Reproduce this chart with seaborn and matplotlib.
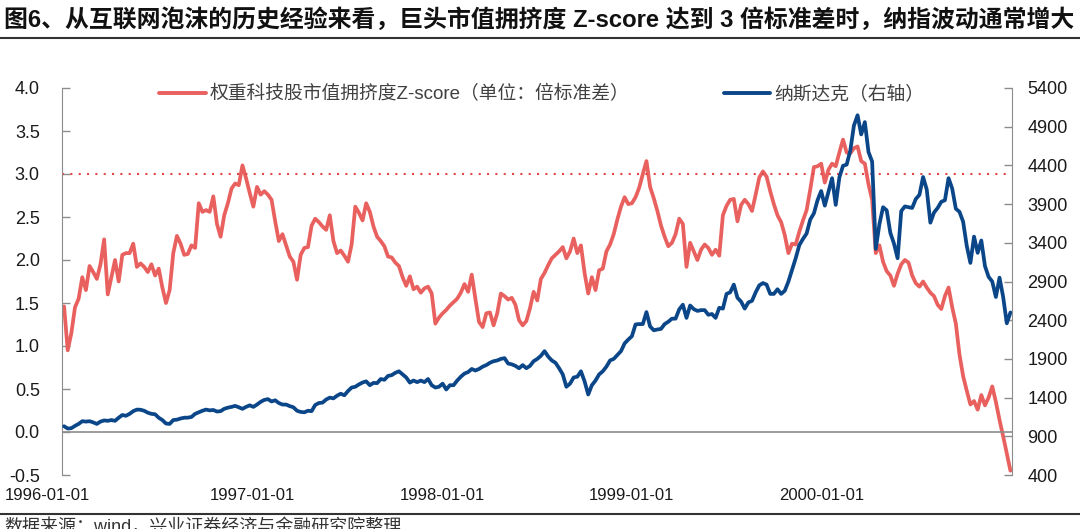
import matplotlib
matplotlib.use("Agg")
import matplotlib.pyplot as plt
import matplotlib.dates as mdates
import matplotlib.ticker as mtick
from matplotlib.lines import Line2D
from matplotlib.transforms import ScaledTranslation
import numpy as np
import pandas as pd
import seaborn as sns

# weekly readings (Fridays), Z-score of mega-cap tech crowding (left axis)
zscore_1996 = [1.46, 0.95, 1.15, 1.45, 1.55, 1.80, 1.65, 1.93, 1.86, 1.78,
               1.95, 2.24, 1.60, 1.80, 2.00, 1.75, 2.06, 2.08, 2.08, 2.19,
               1.92, 1.96, 1.92, 1.86, 1.95, 1.82, 1.90, 1.68, 1.50, 1.65,
               2.08, 2.28, 2.19, 2.06, 2.07, 2.17, 2.14, 2.66, 2.56, 2.58,
               2.56, 2.74, 2.42, 2.27, 2.52, 2.66, 2.83, 2.89, 2.87, 3.10,
               2.95, 2.78]
zscore_1997 = [2.62, 2.85, 2.76, 2.80, 2.76, 2.70, 2.45, 2.22, 2.30, 2.17,
               2.04, 1.98, 1.77, 2.06, 2.14, 2.15, 2.40, 2.48, 2.44, 2.39,
               2.35, 2.52, 2.22, 2.08, 2.11, 2.05, 1.98, 2.18, 2.62, 2.55,
               2.46, 2.66, 2.56, 2.39, 2.27, 2.22, 2.16, 2.04, 2.03, 1.97,
               1.93, 1.80, 1.70, 1.81, 1.66, 1.69, 1.62, 1.67, 1.69, 1.61,
               1.26, 1.33]
zscore_1998 = [1.38, 1.42, 1.47, 1.51, 1.55, 1.62, 1.72, 1.63, 1.83, 1.55,
               1.28, 1.22, 1.38, 1.39, 1.24, 1.38, 1.61, 1.58, 1.54, 1.56,
               1.48, 1.30, 1.24, 1.29, 1.44, 1.63, 1.53, 1.78, 1.85, 1.94,
               2.02, 2.06, 2.10, 2.15, 2.02, 2.10, 2.25, 2.08, 2.17, 1.85,
               1.61, 1.80, 1.65, 1.88, 1.90, 2.10, 2.18, 2.30, 2.47, 2.62,
               2.73, 2.65]
zscore_1999 = [2.66, 2.73, 2.84, 3.00, 3.15, 2.85, 2.72, 2.57, 2.40, 2.27,
               2.16, 2.20, 2.30, 2.48, 2.42, 1.92, 2.20, 2.10, 2.00, 2.12,
               2.18, 2.14, 2.06, 2.12, 2.05, 2.52, 2.63, 2.70, 2.71, 2.45,
               2.64, 2.70, 2.65, 2.57, 2.76, 2.96, 3.03, 2.97, 2.80, 2.65,
               2.52, 2.44, 2.29, 2.08, 2.19, 2.18, 2.33, 2.46, 2.58, 2.82,
               3.08, 3.09, 3.12]
zscore_2000 = [2.90, 3.05, 3.12, 3.09, 3.25, 3.40, 3.25, 3.24, 3.30, 3.32,
               3.15, 3.12, 2.88, 2.70, 2.08, 2.17, 1.98, 1.87, 1.82, 1.70,
               1.84, 1.95, 2.00, 1.97, 1.82, 1.73, 1.69, 1.75, 1.68, 1.62,
               1.58, 1.48, 1.43, 1.58, 1.68, 1.45, 1.26, 0.90, 0.65, 0.48,
               0.32, 0.36, 0.26, 0.43, 0.31, 0.40, 0.53, 0.35, 0.14, -0.05,
               -0.25, -0.45]

# Nasdaq composite, weekly closes (right axis)
nasdaq_1996 = [1030, 1000, 1005, 1035, 1060, 1095, 1090, 1095, 1080, 1060,
               1090, 1105, 1100, 1110, 1100, 1140, 1175, 1165, 1190, 1225,
               1245, 1243, 1230, 1205, 1190, 1185, 1140, 1110, 1065, 1060,
               1110, 1115, 1130, 1140, 1141, 1150, 1190, 1210, 1230, 1245,
               1235, 1240, 1220, 1225, 1255, 1270, 1280, 1293, 1275, 1255,
               1280, 1300]
nasdaq_1997 = [1280, 1310, 1345, 1370, 1380, 1350, 1365, 1330, 1310, 1310,
               1290, 1275, 1230, 1215, 1210, 1230, 1225, 1305, 1330, 1335,
               1375, 1400, 1390, 1425, 1450, 1430, 1485, 1530, 1540, 1570,
               1595, 1610, 1560, 1590, 1587, 1640, 1630, 1680, 1690, 1720,
               1740, 1700, 1660, 1594, 1620, 1600, 1620, 1600, 1640, 1560,
               1530, 1540]
nasdaq_1998 = [1580, 1505, 1560, 1560, 1620, 1670, 1710, 1730, 1770, 1750,
               1770, 1800, 1820, 1850, 1870, 1880, 1900, 1910, 1840, 1830,
               1810, 1779, 1820, 1780, 1810, 1870, 1900, 1940, 2000, 1930,
               1880, 1850, 1780, 1700, 1540, 1580, 1660, 1670, 1740, 1610,
               1440, 1560, 1620, 1700, 1740, 1800, 1880, 1900, 1950, 2000,
               2100, 2150]
nasdaq_1999 = [2193, 2345, 2350, 2350, 2505, 2320, 2270, 2280, 2288, 2350,
               2380, 2420, 2420, 2540, 2600, 2430, 2590, 2543, 2520, 2530,
               2530, 2470, 2480, 2430, 2560, 2550, 2740, 2760, 2860, 2690,
               2640, 2550, 2630, 2650, 2760, 2850, 2880, 2860, 2740, 2740,
               2800, 2740, 2780, 2900, 3050, 3200, 3370, 3450, 3520, 3700,
               3780, 3950, 4069]
nasdaq_2000 = [3880, 4060, 4235, 3890, 4245, 4395, 4410, 4590, 4915, 5048,
               4800, 4960, 4573, 4450, 3321, 3640, 3860, 3820, 3530, 3390,
               3200, 3810, 3870, 3860, 3850, 3966, 4020, 4250, 4090, 3660,
               3790, 3850, 3930, 3950, 4235, 4100, 3840, 3800, 3673, 3360,
               3140, 3480, 3270, 3430, 3100, 2960, 2900, 2700, 2950, 2700,
               2360, 2500]

zscore = zscore_1996 + zscore_1997 + zscore_1998 + zscore_1999 + zscore_2000
nasdaq = nasdaq_1996 + nasdaq_1997 + nasdaq_1998 + nasdaq_1999 + nasdaq_2000

year_ticks = ["1996-01-01", "1997-01-01", "1998-01-01", "1999-01-01", "2000-01-01"]
left_ticks = [-0.5, 0.0, 0.5, 1.0, 1.5, 2.0, 2.5, 3.0, 3.5, 4.0]
right_ticks = [400, 900, 1400, 1900, 2400, 2900, 3400, 3900, 4400, 4900, 5400]
threshold = 3.0

title = "图6、从互联网泡沫的历史经验来看，巨头市值拥挤度 Z-score 达到 3 倍标准差时，纳指波动通常增大"
label_z = "权重科技股市值拥挤度Z-score（单位：倍标准差）"
label_n = "纳斯达克（右轴）"
source = "数据来源：wind，兴业证券经济与金融研究院整理"

dates = pd.date_range("1996-01-05", periods=len(zscore), freq="W-FRI")
df = pd.DataFrame({"date": dates, "zscore": zscore, "nasdaq": nasdaq})

RED = "#E9615F"
BLUE = "#0B4689"
GRAY = "#8C8C8C"

sns.set_style("white")
plt.rcParams["font.family"] = ["Liberation Sans", "Noto Sans CJK SC"]

fig = plt.figure(figsize=(10.8, 5.29), dpi=100)
ax = fig.add_axes([62 / 1080, 1 - 475 / 529, 950 / 1080, 387 / 529])

sns.lineplot(data=df, x="date", y="zscore", ax=ax, color=RED, lw=2.7, label=label_z)
ax.axhline(threshold, color="#E04848", lw=1.5, ls=(0, (1, 3)))
ax.axhline(0, color=GRAY, lw=1.2)

ax2 = ax.twinx()
sns.lineplot(data=df, x="date", y="nasdaq", ax=ax2, color=BLUE, lw=2.7, label=label_n)

for a in (ax, ax2):
    if a.get_legend() is not None:
        a.get_legend().remove()
    a.set_xlabel("")
    a.set_ylabel("")

ax.set_xlim(pd.Timestamp("1996-01-01"), pd.Timestamp("2001-01-01"))
ax.set_xticks(pd.to_datetime(year_ticks))
ax.xaxis.set_major_formatter(mdates.DateFormatter("%Y-%m-%d"))
ax.tick_params(axis="x", length=0, pad=9, labelsize=12, labelcolor="#1a1a1a")

ax.set_ylim(-0.5, 4.0)
ax.set_yticks(left_ticks)
ax.yaxis.set_major_formatter(mtick.FormatStrFormatter("%.1f"))
ax.tick_params(axis="y", direction="in", length=6, width=1, color=GRAY,
               pad=16, labelsize=13, labelcolor="#1a1a1a")

ax2.set_ylim(400, 5400)
ax2.set_yticks(right_ticks)
ax2.tick_params(axis="y", direction="in", length=6, width=1, color=GRAY,
                pad=11, labelsize=13, labelcolor="#1a1a1a")

# first date label sits a bit left of the axis start, as in the original
first = ax.xaxis.get_major_ticks()[0].label1
first.set_transform(first.get_transform() + ScaledTranslation(-0.15, 0, fig.dpi_scale_trans))

for s in ("top", "right", "bottom"):
    ax.spines[s].set_visible(False)
for s in ("top", "left", "bottom"):
    ax2.spines[s].set_visible(False)
ax.spines["left"].set_color(GRAY)
ax2.spines["right"].set_color(GRAY)

handles = [Line2D([], [], color=RED, lw=2.8), Line2D([], [], color=BLUE, lw=2.8)]
leg = ax2.legend(handles, [label_z, label_n], loc="upper center",
                 bbox_to_anchor=(0.505, 1.05), ncol=2, frameon=False,
                 fontsize=13.5, handlelength=2.5, handletextpad=0.2,
                 columnspacing=5.0)
for t in leg.get_texts():
    t.set_color("#404040")

fig.text(0.004, 1 - 20 / 529, title, fontsize=17.2, fontweight="bold",
         va="center", ha="left", color="#111111")
fig.add_artist(Line2D([0, 1], [1 - 38 / 529] * 2, transform=fig.transFigure,
                      color="#333333", lw=1.5))
fig.add_artist(Line2D([0, 1], [1 - 514 / 529] * 2, transform=fig.transFigure,
                      color="#333333", lw=1.5))
fig.text(0.004, 1 - 518 / 529, source, fontsize=13, va="top", ha="left",
         color="#333333")

fig.savefig("out.png", dpi=100)
